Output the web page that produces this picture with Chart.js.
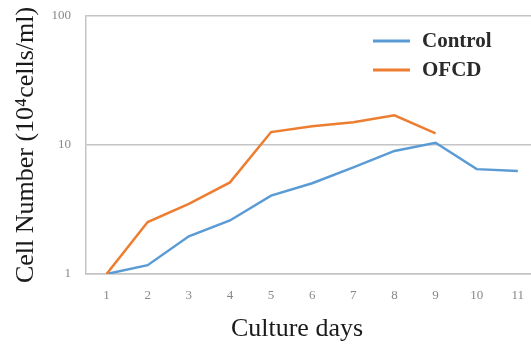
<!DOCTYPE html>
<html>
<head>
<meta charset="utf-8">
<script src="https://cdn.jsdelivr.net/npm/chart.js@4/dist/chart.umd.min.js"></script>
<style>
html,body{margin:0;padding:0;background:#fff;overflow:hidden;}
#wrap{width:531px;height:345px;position:relative;overflow:hidden;}
</style>
</head>
<body>
<div id="wrap"><canvas id="c" width="531" height="345"></canvas></div>
<script>
const days = [1,2,3,4,5,6,7,8,9,10,11];
const controlValues = [1.0,1.17,1.96,2.6,4.05,5.05,6.7,9.0,10.4,6.5,6.3];
const ofcdValues = [1.0,2.53,3.5,5.13,12.6,14.0,15.0,17.0,12.3];
const yTickValues = [1,10,100];
const seriesNames = ['Control','OFCD'];
const xTitle = 'Culture days';
const yTitle = 'Cell Number (10\u2074cells/ml)';

function pts(vals){ return vals.map((v,i)=>({x:days[i], y:v})); }

const legendPlugin = {
  id:'insideLegend',
  afterDraw(chart){
    const ctx = chart.ctx, a = chart.chartArea;
    ctx.save();
    chart.data.datasets.forEach((ds,i)=>{
      const y = a.top + 25 + i*29;
      const x0 = a.left + 287;
      ctx.strokeStyle = ds.borderColor;
      ctx.lineWidth = 3;
      ctx.beginPath(); ctx.moveTo(x0,y); ctx.lineTo(x0+37,y); ctx.stroke();
      ctx.fillStyle = '#2a2a2a';
      ctx.font = 'bold 21px "Liberation Serif", serif';
      ctx.textBaseline = 'middle';
      ctx.fillText(ds.label, x0+49, y+1);
    });
    // x axis title
    ctx.font = '26px "Liberation Serif", serif';
    ctx.fillStyle = '#1a1a1a';
    ctx.textAlign = 'center';
    ctx.textBaseline = 'middle';
    ctx.fillText(xTitle, a.left + 211, 329);
    ctx.restore();
  }
};

new Chart(document.getElementById('c'), {
  type:'line',
  data:{
    datasets:[
      {label:seriesNames[0], data:pts(controlValues), borderColor:'#5B9BD5', borderWidth:2.5, pointRadius:0, tension:0, fill:false, order:1},
      {label:seriesNames[1], data:pts(ofcdValues), borderColor:'#ED7D31', borderWidth:2.5, pointRadius:0, tension:0, fill:false, order:0}
    ]
  },
  options:{
    responsive:false,
    animation:false,
    layout:{padding:{top:16,right:0,left:0,bottom:0}},
    plugins:{legend:{display:false}, tooltip:{enabled:false}},
    scales:{
      x:{
        type:'linear', min:0.5, max:11.32,
        afterBuildTicks(s){ s.ticks = days.map(v=>({value:v})); },
        afterFit(s){ s.height = 71; s.paddingLeft = 0; s.paddingRight = 0; },
        grid:{display:false, drawTicks:false},
        border:{display:true, color:'#c4c4c4', width:1.5},
        ticks:{padding:14, color:'#888', font:{family:'"Liberation Serif", serif', size:13}, maxRotation:0, callback:v=>String(v)},
        title:{display:false}
      },
      y:{
        type:'logarithmic', min:1, max:100,
        afterBuildTicks(s){ s.ticks = yTickValues.map(v=>({value:v})); },
        afterFit(s){ s.width = 86; s.paddingTop = 0; s.paddingBottom = 0; },
        grid:{color:'#c4c4c4', lineWidth:1.5, drawTicks:false},
        border:{display:true, color:'#c4c4c4', width:1.5},
        ticks:{padding:15, color:'#888', font:{family:'"Liberation Serif", serif', size:13}, callback:v=>String(v)},
        title:{display:true, text:yTitle, color:'#1a1a1a', font:{family:'"Liberation Serif", serif', size:26}, padding:{top:11,bottom:0}}
      }
    }
  },
  plugins:[legendPlugin]
});
</script>
</body>
</html>
